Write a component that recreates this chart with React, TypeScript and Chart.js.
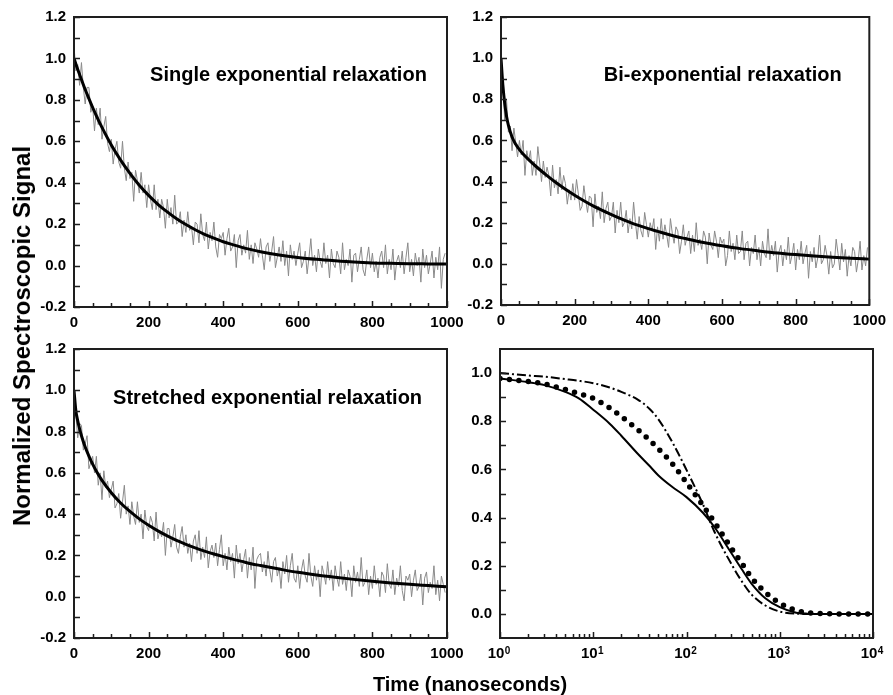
import React, { useEffect, useRef } from "react";
import { Chart, registerables } from "chart.js";

Chart.register(...registerables);

// ---------------- data ----------------
const signalStep = 5; // ns between recorded samples (t = 0, 5, ..., 995)

const singleSignal = [
  1.06, 0.94, 0.97, 0.87, 0.98, 0.86, 0.78, 0.86, 0.86, 0.74,
  0.77, 0.65, 0.76, 0.68, 0.76, 0.61, 0.67, 0.72, 0.59, 0.55,
  0.61, 0.49, 0.56, 0.6, 0.5, 0.47, 0.6, 0.47, 0.41, 0.5,
  0.42, 0.45, 0.31, 0.46, 0.41, 0.35, 0.45, 0.35, 0.39, 0.28,
  0.39, 0.32, 0.27, 0.39, 0.27, 0.32, 0.23, 0.32, 0.28, 0.18,
  0.32, 0.23, 0.28, 0.2, 0.34, 0.2, 0.21, 0.26, 0.14, 0.22,
  0.16, 0.26, 0.17, 0.19, 0.1, 0.21, 0.2, 0.11, 0.25, 0.15,
  0.12, 0.21, 0.08, 0.16, 0.12, 0.21, 0.09, 0.04, 0.15, 0.13,
  0.16, 0.05, 0.13, 0.18, 0.07, 0.09, 0.15, -0.01, 0.12, 0.15,
  0.05, 0.1, 0.06, 0.17, 0.03, 0.1, 0.01, 0.11, 0.08, 0.04,
  0.13, 0.05, -0.02, 0.09, 0.11, 0.02, 0.07, 0.14, -0.01, 0.04,
  0.09, 0.02, 0.12, 0.0, 0.07, -0.05, 0.1, 0.03, 0.07, 0.0,
  0.06, 0.11, -0.01, 0.02, 0.07, -0.04, 0.04, 0.13, 0.0, 0.05,
  -0.03, 0.08, 0.02, -0.01, 0.11, 0.01, 0.05, -0.06, 0.08, 0.01,
  -0.01, 0.07, 0.04, -0.04, 0.11, -0.02, 0.03, 0.0, 0.08, -0.08,
  0.05, 0.06, -0.03, 0.03, 0.09, -0.02, -0.05, 0.03, 0.09, -0.01,
  0.06, -0.03, 0.02, -0.06, 0.04, 0.07, -0.01, 0.1, -0.04, 0.03,
  -0.02, 0.08, -0.07, 0.02, 0.05, -0.01, 0.07, -0.04, 0.04, 0.11,
  -0.03, 0.03, -0.05, 0.06, 0.0, 0.04, -0.08, 0.08, -0.01, 0.05,
  -0.04, 0.01, 0.07, -0.06, 0.04, -0.02, 0.09, -0.11, 0.03, 0.06,
];

const biSignal = [
  1.02, 0.89, 0.7, 0.8, 0.64, 0.67, 0.55, 0.66, 0.59, 0.52,
  0.6, 0.53, 0.6, 0.43, 0.55, 0.5, 0.55, 0.43, 0.5, 0.43,
  0.57, 0.49, 0.4, 0.5, 0.42, 0.47, 0.43, 0.33, 0.48, 0.37,
  0.41, 0.34, 0.47, 0.36, 0.43, 0.39, 0.29, 0.36, 0.31, 0.39,
  0.31, 0.41, 0.34, 0.26, 0.28, 0.38, 0.31, 0.25, 0.33, 0.32,
  0.18, 0.34, 0.25, 0.28, 0.22, 0.35, 0.2, 0.27, 0.3, 0.21,
  0.23, 0.3, 0.15, 0.26, 0.2, 0.3, 0.18, 0.2, 0.26, 0.15,
  0.22, 0.17, 0.3, 0.2, 0.12, 0.23, 0.16, 0.13, 0.25, 0.19,
  0.13, 0.2, 0.16, 0.22, 0.07, 0.18, 0.11, 0.22, 0.12, 0.19,
  0.14, 0.08, 0.22, 0.15, 0.1, 0.18, 0.16, 0.05, 0.11, 0.19,
  0.09, 0.13, 0.16, 0.05, 0.14, 0.06, 0.2, 0.09, 0.12, 0.07,
  0.16, 0.13, 0.0, 0.15, 0.09, 0.07, 0.16, 0.11, 0.03, 0.13,
  0.1, 0.12, -0.01, 0.04, 0.16, 0.06, 0.1, 0.02, 0.14, 0.05,
  0.06, 0.16, 0.02, 0.1, 0.11, -0.01, 0.08, 0.05, 0.14, 0.02,
  0.08, -0.01, 0.11, 0.05, 0.03, 0.17, 0.02, 0.09, 0.04, 0.11,
  -0.04, 0.06, 0.09, -0.01, 0.07, 0.02, 0.13, 0.0, 0.04, 0.1,
  -0.03, 0.07, 0.02, 0.11, 0.0, 0.05, 0.09, -0.07, 0.06, 0.01,
  0.08, -0.02, 0.03, 0.14, 0.0, 0.02, 0.09, 0.04, -0.05, 0.06,
  -0.02, 0.0, 0.12, 0.05, -0.03, 0.1, 0.01, 0.07, -0.06, 0.04,
  -0.01, 0.08, 0.06, -0.04, 0.02, 0.11, -0.03, 0.04, -0.01, 0.08,
];

const stretchedSignal = [
  1.03, 0.88, 0.77, 0.84, 0.83, 0.71, 0.74, 0.78, 0.62, 0.65,
  0.68, 0.6, 0.68, 0.54, 0.6, 0.47, 0.61, 0.53, 0.56, 0.48,
  0.52, 0.56, 0.43, 0.45, 0.5, 0.38, 0.46, 0.54, 0.4, 0.44,
  0.35, 0.46, 0.39, 0.35, 0.46, 0.36, 0.4, 0.28, 0.42, 0.34,
  0.32, 0.39, 0.36, 0.27, 0.41, 0.28, 0.32, 0.29, 0.36, 0.2,
  0.33, 0.33, 0.24, 0.29, 0.35, 0.24, 0.21, 0.29, 0.34, 0.24,
  0.3, 0.21, 0.26, 0.17, 0.27, 0.3, 0.21, 0.32, 0.18, 0.24,
  0.19, 0.29, 0.14, 0.22, 0.25, 0.19, 0.26, 0.15, 0.23, 0.3,
  0.15, 0.21, 0.13, 0.24, 0.17, 0.21, 0.09, 0.25, 0.16, 0.21,
  0.12, 0.18, 0.23, 0.09, 0.19, 0.13, 0.24, 0.04, 0.18, 0.2,
  0.21, 0.12, 0.17, 0.1, 0.22, 0.13, 0.07, 0.17, 0.19, 0.1,
  0.14, 0.04, 0.17, 0.11, 0.2, 0.07, 0.15, 0.21, 0.09, 0.07,
  0.15, 0.04, 0.13, 0.18, 0.1, 0.07, 0.21, 0.1, 0.05, 0.15,
  0.08, 0.13, 0.0, 0.15, 0.11, 0.06, 0.17, 0.08, 0.13, 0.03,
  0.15, 0.09, 0.05, 0.17, 0.06, 0.11, 0.03, 0.13, 0.1, 0.0,
  0.15, 0.07, 0.12, 0.05, 0.19, 0.05, 0.07, 0.13, 0.01, 0.1,
  0.04, 0.15, 0.06, 0.09, 0.0, 0.12, 0.1, 0.02, 0.16, 0.06,
  0.04, 0.13, 0.01, 0.09, 0.05, 0.15, 0.03, -0.02, 0.1, 0.08,
  0.11, 0.0, 0.08, 0.13, 0.03, 0.05, 0.11, -0.04, 0.09, 0.12,
  0.02, 0.07, 0.04, 0.15, 0.01, 0.08, -0.02, 0.1, 0.06, 0.02,
];

const fitTimes = [
  0, 5, 10, 15, 20, 30, 40, 50, 60, 75, 100, 125, 150, 175, 200, 225, 250, 275,
  300, 325, 350, 375, 400, 425, 450, 475, 500, 550, 600, 650, 700, 750, 800,
  850, 900, 950, 1000,
];
const singleFit = [
  1.0, 0.973, 0.947, 0.922, 0.898, 0.85, 0.806, 0.763, 0.723, 0.667, 0.582,
  0.509, 0.445, 0.388, 0.339, 0.296, 0.259, 0.226, 0.198, 0.173, 0.151, 0.132,
  0.115, 0.101, 0.088, 0.077, 0.067, 0.051, 0.039, 0.03, 0.023, 0.017, 0.013,
  0.011, 0.009, 0.008, 0.007,
];
const biFit = [
  1.0, 0.87, 0.781, 0.718, 0.674, 0.617, 0.581, 0.555, 0.534, 0.507, 0.466,
  0.429, 0.394, 0.363, 0.334, 0.307, 0.282, 0.26, 0.239, 0.22, 0.202, 0.186,
  0.171, 0.158, 0.145, 0.133, 0.123, 0.104, 0.088, 0.074, 0.063, 0.053, 0.045,
  0.038, 0.032, 0.027, 0.023,
];
const stretchedFit = [
  1.0, 0.901, 0.852, 0.813, 0.78, 0.725, 0.681, 0.642, 0.608, 0.564, 0.504,
  0.454, 0.413, 0.377, 0.346, 0.319, 0.295, 0.273, 0.254, 0.237, 0.221, 0.207,
  0.194, 0.182, 0.171, 0.16, 0.151, 0.134, 0.118, 0.105, 0.094, 0.084, 0.075,
  0.067, 0.06, 0.054, 0.048,
];

const logTimes = [
  1, 2, 3, 5, 7, 10, 15, 20, 30, 40, 50, 70, 100, 150, 200, 300, 400, 500, 700,
  1000, 1500, 2000, 3000, 5000, 10000,
];
const solidCurve = [
  0.978, 0.962, 0.95, 0.922, 0.895, 0.848, 0.79, 0.74, 0.665, 0.615, 0.575,
  0.528, 0.485, 0.42, 0.36, 0.255, 0.18, 0.125, 0.065, 0.028, 0.005, 0.001, 0,
  0, 0,
];
const dottedCurve = [
  0.978, 0.965, 0.955, 0.932, 0.915, 0.895, 0.855, 0.82, 0.765, 0.722, 0.685,
  0.625, 0.545, 0.45, 0.38, 0.275, 0.205, 0.15, 0.09, 0.045, 0.015, 0.005,
  0.001, 0, 0,
];
const dashDotCurve = [
  1.0, 0.99, 0.985, 0.975, 0.968, 0.958, 0.94, 0.922, 0.89, 0.852, 0.808,
  0.715, 0.598, 0.455, 0.34, 0.21, 0.13, 0.08, 0.035, 0.01, 0.001, 0, 0, 0, 0,
];

const linTickValues = [0, 200, 400, 600, 800, 1000];
const linTickLabels = ["0", "200", "400", "600", "800", "1000"];
const linMinorTicks = [50, 100, 150, 250, 300, 350, 450, 500, 550, 650, 700, 750, 850, 900, 950];
const yTickValues = [-0.2, 0, 0.2, 0.4, 0.6, 0.8, 1.0, 1.2];
const yTickLabels = ["-0.2", "0.0", "0.2", "0.4", "0.6", "0.8", "1.0", "1.2"];
const yMinorTicks = [-0.1, 0.1, 0.3, 0.5, 0.7, 0.9, 1.1];
const logTickValues = [1, 10, 100, 1000, 10000];
const logTickBase = ["10", "10", "10", "10", "10"];
const logTickExponents = ["0", "1", "2", "3", "4"];
const logMinorTicks = [
  2, 3, 4, 5, 6, 7, 8, 9, 20, 30, 40, 50, 60, 70, 80, 90, 200, 300, 400, 500,
  600, 700, 800, 900, 2000, 3000, 4000, 5000, 6000, 7000, 8000, 9000,
];
const y4TickValues = [0, 0.2, 0.4, 0.6, 0.8, 1.0];
const y4TickLabels = ["0.0", "0.2", "0.4", "0.6", "0.8", "1.0"];
const y4MinorTicks = [0.1, 0.3, 0.5, 0.7, 0.9];

// ---------------- rendering ----------------
const FONT = '"Liberation Sans", Arial, Helvetica, sans-serif';
const W = 893;
const H = 695;
const LOG_LABEL_SHIFT = -4;

const frameTicksPlugin = {
  id: "frameTicks",
  afterDraw(chart: any, _args: any, opts: any) {
    const { ctx, chartArea: a, scales } = chart;
    const xs = scales.x;
    const ys = scales.y;
    ctx.save();
    ctx.strokeStyle = "#1e1e1e";
    ctx.lineWidth = 1.5;
    ctx.beginPath();
    const xt = (vals: number[], len: number) => {
      for (const v of vals) {
        const px = Math.round(xs.getPixelForValue(v)) + 0.5;
        ctx.moveTo(px, a.bottom);
        ctx.lineTo(px, a.bottom - len);
      }
    };
    const yt = (vals: number[], len: number) => {
      for (const v of vals) {
        const py = Math.round(ys.getPixelForValue(v)) + 0.5;
        ctx.moveTo(a.left, py);
        ctx.lineTo(a.left + len, py);
      }
    };
    xt(opts.xMajor, 6);
    xt(opts.xMinor, 4);
    yt(opts.yMajor, 6);
    yt(opts.yMinor, 6);
    ctx.stroke();
    ctx.lineWidth = 2;
    ctx.strokeRect(a.left, a.top, a.right - a.left, a.bottom - a.top);
    if (opts.label) {
      ctx.font = `bold 20px ${FONT}`;
      ctx.fillStyle = "#000";
      ctx.textAlign = "center";
      ctx.textBaseline = "alphabetic";
      ctx.fillText(
        opts.label.text,
        xs.getPixelForValue(opts.label.x),
        ys.getPixelForValue(opts.label.y)
      );
    }
    if (opts.exponents) {
      // superscript exponents next to the "10" tick labels drawn by the axis
      ctx.font = `bold 15px ${FONT}`;
      const baseW = ctx.measureText("10").width;
      ctx.font = `bold 10px ${FONT}`;
      ctx.fillStyle = "#000";
      ctx.textAlign = "left";
      ctx.textBaseline = "alphabetic";
      opts.exponents.forEach((e: string, i: number) => {
        const px = xs.getPixelForValue(opts.xMajor[i]) + LOG_LABEL_SHIFT + baseW / 2 + 0.5;
        ctx.fillText(e, px, a.bottom + 16);
      });
    }
    ctx.restore();
  },
};

type Panel = {
  padding: { left: number; right: number; top: number; bottom: number };
  datasets: any[];
  log: boolean;
  label?: { text: string; x: number; y: number };
};

function makeConfig(p: Panel): any {
  const xTicks = p.log ? logTickValues : linTickValues;
  const xLabels = p.log ? logTickBase : linTickLabels;
  const yTicks = p.log ? y4TickValues : yTickValues;
  const yLabels = p.log ? y4TickLabels : yTickLabels;
  const tickFont = { family: FONT, size: 15, weight: "bold" as const };
  return {
    type: "line",
    data: { datasets: p.datasets },
    plugins: [frameTicksPlugin],
    options: {
      responsive: false,
      animation: false,
      layout: { padding: p.padding },
      elements: { point: { radius: 0 } },
      plugins: {
        legend: { display: false },
        tooltip: { enabled: false },
        frameTicks: {
          xMajor: xTicks,
          xMinor: p.log ? logMinorTicks : linMinorTicks,
          yMajor: yTicks,
          yMinor: p.log ? y4MinorTicks : yMinorTicks,
          label: p.label,
          exponents: p.log ? logTickExponents : null,
        },
      },
      scales: {
        x: {
          type: p.log ? "logarithmic" : "linear",
          min: p.log ? 1 : 0,
          max: p.log ? 10000 : 1000,
          grid: { display: false, drawTicks: false },
          border: { display: false },
          afterBuildTicks: (s: any) => {
            s.ticks = xTicks.map((v) => ({ value: v }));
          },
          afterFit: (s: any) => {
            s.height = 30;
          },
          ticks: {
            autoSkip: false,
            maxRotation: 0,
            padding: 7,
            labelOffset: p.log ? LOG_LABEL_SHIFT : 0,
            color: "#000",
            font: tickFont,
            callback: (_v: any, i: number) => xLabels[i],
          },
        },
        y: {
          type: "linear",
          min: p.log ? -0.1 : -0.2,
          max: p.log ? 1.1 : 1.2,
          grid: { display: false, drawTicks: false },
          border: { display: false },
          afterBuildTicks: (s: any) => {
            s.ticks = yTicks.map((v) => ({ value: v }));
          },
          afterFit: (s: any) => {
            s.width = 40;
          },
          ticks: {
            autoSkip: false,
            padding: 8,
            color: "#000",
            font: tickFont,
            callback: (_v: any, i: number) => yLabels[i],
          },
        },
      },
    },
  };
}

const signalPoints = (vals: number[]) => vals.map((y, i) => ({ x: i * signalStep, y }));
const xyPoints = (xs: number[], ys: number[]) => xs.map((x, i) => ({ x, y: ys[i] }));

function noisyPanel(signal: number[], fit: number[]) {
  return [
    {
      data: xyPoints(fitTimes, fit),
      borderColor: "#000",
      borderWidth: 3,
      cubicInterpolationMode: "monotone",
      order: 0,
    },
    {
      data: signalPoints(signal),
      borderColor: "#8a8a8a",
      borderWidth: 1,
      tension: 0,
      order: 1,
    },
  ];
}

const panels: Panel[] = [
  {
    padding: { left: 34, right: 446, top: 17, bottom: 358 },
    datasets: noisyPanel(singleSignal, singleFit),
    log: false,
    label: { text: "Single exponential relaxation", x: 575, y: 0.891 },
  },
  {
    padding: { left: 461, right: 20, top: 16, bottom: 360 },
    datasets: noisyPanel(biSignal, biFit),
    log: false,
    label: { text: "Bi-exponential relaxation", x: 602, y: 0.887 },
  },
  {
    padding: { left: 34, right: 446, top: 349, bottom: 27 },
    datasets: noisyPanel(stretchedSignal, stretchedFit),
    log: false,
    label: { text: "Stretched exponential relaxation", x: 519, y: 0.934 },
  },
  {
    padding: { left: 460, right: 20, top: 349, bottom: 27 },
    log: true,
    datasets: [
      {
        data: xyPoints(logTimes, solidCurve),
        borderColor: "#000",
        borderWidth: 2,
        cubicInterpolationMode: "monotone",
      },
      {
        data: xyPoints(logTimes, dottedCurve),
        borderColor: "#000",
        borderWidth: 5.5,
        borderDash: [0, 9.5],
        borderCapStyle: "round",
        cubicInterpolationMode: "monotone",
      },
      {
        data: xyPoints(logTimes, dashDotCurve),
        borderColor: "#000",
        borderWidth: 2,
        borderDash: [9, 3, 2, 3],
        cubicInterpolationMode: "monotone",
      },
    ],
  },
];

function PanelChart({ panel }: { panel: Panel }) {
  const ref = useRef<HTMLCanvasElement | null>(null);
  useEffect(() => {
    if (!ref.current) return;
    const chart = new Chart(ref.current, makeConfig(panel));
    return () => chart.destroy();
  }, [panel]);
  return (
    <canvas
      ref={ref}
      width={W}
      height={H}
      style={{ position: "absolute", left: 0, top: 0, width: W, height: H }}
    />
  );
}

export default function App() {
  return (
    <div
      style={{
        position: "absolute",
        left: 0,
        top: 0,
        width: W,
        height: H,
        background: "#fff",
        overflow: "hidden",
        fontFamily: FONT,
      }}
    >
      {panels.map((p, i) => (
        <PanelChart key={i} panel={p} />
      ))}
      <div
        style={{
          position: "absolute",
          left: 21.7,
          top: 336,
          transform: "translate(-50%, -50%) rotate(-90deg)",
          whiteSpace: "nowrap",
          fontWeight: "bold",
          fontSize: 24,
          lineHeight: "24px",
          color: "#000",
        }}
      >
        Normalized Spectroscopic Signal
      </div>
      <div
        style={{
          position: "absolute",
          left: 470,
          top: 674,
          transform: "translateX(-50%)",
          whiteSpace: "nowrap",
          fontWeight: "bold",
          fontSize: 20,
          lineHeight: "20px",
          color: "#000",
        }}
      >
        Time (nanoseconds)
      </div>
    </div>
  );
}
